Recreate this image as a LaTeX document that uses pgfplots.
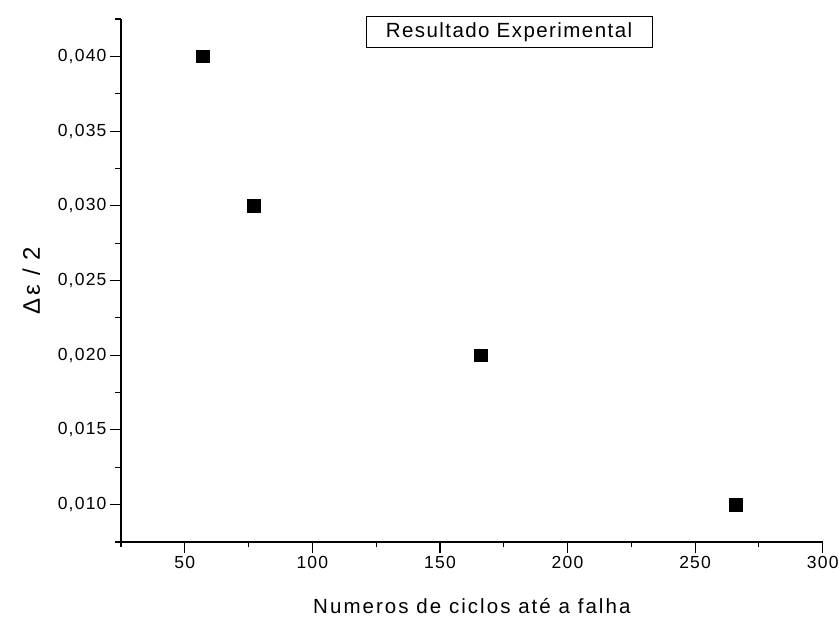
\documentclass[border=0pt]{standalone}
\usepackage{fontspec}
\setmainfont{Liberation Sans}[LetterSpace=7]
\newfontfamily\labelfont{Liberation Sans}[LetterSpace=10]
\usepackage{pgfplots}
\pgfplotsset{compat=1.18}
\begin{document}
\begin{tikzpicture}
\begin{axis}[
  name=ax,
  scale only axis,
  width=701.7pt, height=523pt,
  xmin=25, xmax=300, ymin=0.0075, ymax=0.0425,
  axis lines*=left,
  axis line style={-, line width=1.1pt, shorten <=-5pt},
  every tick/.style={black, line width=1.1pt},
  tick align=outside,
  major tick length=11pt,
  minor tick length=5.5pt,
  xtick={50,100,...,300},
  minor xtick={25,75,125,175,225,275},
  ytick={0.010,0.015,0.020,0.025,0.030,0.035,0.040},
  minor ytick={0.0075,0.0125,0.0175,0.0225,0.0275,0.0325,0.0375,0.0425},
  scaled y ticks=false,
  /pgf/number format/assume math mode=true,
  yticklabel style={/pgf/number format/.cd, fixed, fixed zerofill, precision=3, use comma},
  ticklabel style={font=\fontsize{17.5}{20}\selectfont},
  xlabel={Numeros de ciclos até a falha},
  ylabel={Δε / 2},
  xlabel style={font=\labelfont\fontsize{20.5}{24}\selectfont, at={(axis description cs:0.5,0)}, anchor=base, yshift=-72pt},
  ylabel style={font=\labelfont\fontsize{24}{28}\selectfont, at={(axis description cs:0,0.5)}, anchor=base, yshift=81pt},
  clip=false,
]
\addplot[only marks, mark=square*, mark size=6.3pt, mark options={fill=black, draw=black}]
  coordinates {(57,0.040) (77,0.030) (166,0.020) (266,0.010)};
\node[draw=black, line width=1pt, minimum width=286pt, minimum height=31pt, inner sep=0pt,
      font=\fontsize{20.5}{24}\selectfont] at (rel axis cs:0.553,0.975) {Resultado Experimental};
\end{axis}
\pgfresetboundingbox
\path[use as bounding box] ([xshift=-121pt,yshift=-75pt]ax.south west) rectangle ([xshift=718pt,yshift=542pt]ax.south west);
\end{tikzpicture}
\end{document}
